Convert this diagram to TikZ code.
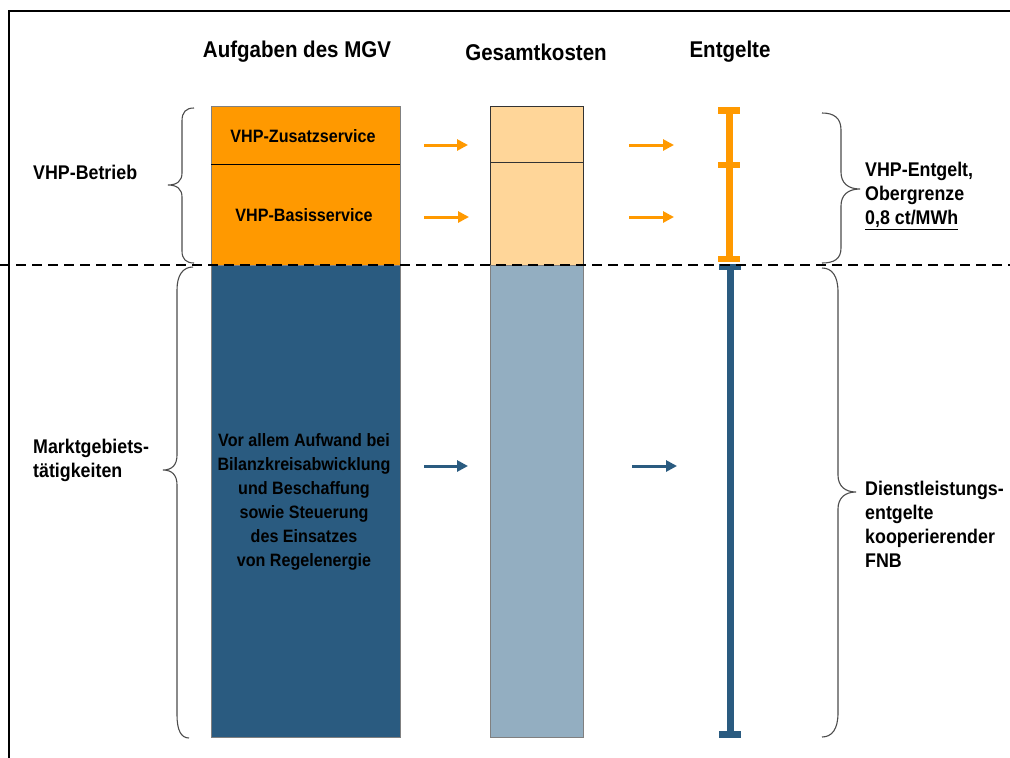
\documentclass[tikz,border=0pt]{standalone}
\usepackage{fontspec}
\setmainfont{Liberation Sans}
\newfontfamily\narrowsans{Liberation Sans}[FakeStretch=0.9]
\usetikzlibrary{arrows.meta}
\definecolor{vorange}{HTML}{FF9900}
\definecolor{lorange}{HTML}{FFD699}
\definecolor{dblue}{HTML}{2A5B80}
\definecolor{lblue}{HTML}{93AEC1}
\tikzset{
  title/.style={font=\narrowsans\bfseries\fontsize{22.8}{26}\selectfont, inner sep=0pt},
  boxtext/.style={font=\narrowsans\bfseries\fontsize{17.9}{24}\selectfont, align=center, inner sep=0pt},
  sidelabel/.style={font=\narrowsans\bfseries\fontsize{19.8}{24}\selectfont, align=left, inner sep=0pt, anchor=west},
  obox/.style={fill=vorange, draw=gray, line width=0.8pt},
  cbox/.style={fill=lorange, draw=black!80, line width=0.8pt},
  bbox/.style={fill=dblue, draw=gray, line width=0.8pt},
  lbbox/.style={fill=lblue, draw=gray, line width=0.8pt},
  oarrow/.style={draw=vorange, line width=3pt, -{Triangle[length=11pt,width=11pt]}},
  barrow/.style={draw=dblue, line width=3pt, -{Triangle[length=11pt,width=11pt]}},
  brace/.style={draw=black!70, line width=1.1pt},
  bar/.style={line width=7pt}
}
\begin{document}
\begin{tikzpicture}[x=1pt,y=-1pt]
\useasboundingbox (0,0) rectangle (1010,758);
% frame
\draw[line width=2pt] (9,758) -- (9,11) -- (1010,11);

% titles
\node[title] (t1) at (297,52) {Aufgaben des MGV};
\node[title] (t2) at (536,52) {Gesamtkosten};
\node[title] (t3) at (730,52) {Entgelte};

% column 1
\path[obox] (211,106) rectangle (400,164);
\path[obox] (211,164) rectangle (400,265);
\draw[black, line width=0.8pt] (211,164) -- (400,164);
\path[bbox] (211,265) rectangle (400,737);
\node[boxtext] (zs) at (303,136) {VHP-Zusatzservice};
\node[boxtext] (bs) at (304,215) {VHP-Basisservice};
\node[boxtext] (ma) at (304,502) {Vor allem Aufwand bei\\Bilanzkreisabwicklung\\und Beschaffung\\sowie Steuerung\\des Einsatzes\\von Regelenergie};

% column 2
\path[cbox] (490,106) rectangle (583,162);
\path[cbox] (490,162) rectangle (583,265);
\path[lbbox] (490,265) rectangle (583,737);

% column 3 bars
\draw[vorange, bar] (729,108) -- (729,262);
\fill[vorange] (718,107) rectangle (740,114);
\fill[vorange] (718,162) rectangle (740,168);
\fill[vorange] (718,256) rectangle (740,262);
\draw[dblue, bar] (730,264) -- (730,736);
\fill[dblue] (719,264) rectangle (741,270);
\fill[dblue] (719,731) rectangle (741,738);

% arrows
\coordinate (a1s) at (424,145); \coordinate (a1e) at (468,145);
\coordinate (a2s) at (629,145); \coordinate (a2e) at (674,145);
\coordinate (a3s) at (424,217); \coordinate (a3e) at (469,217);
\coordinate (a4s) at (629,217); \coordinate (a4e) at (674,217);
\coordinate (a5s) at (424,466); \coordinate (a5e) at (468,466);
\coordinate (a6s) at (632,466); \coordinate (a6e) at (677,466);
\draw[oarrow] (a1s) -- (a1e);
\draw[oarrow] (a2s) -- (a2e);
\draw[oarrow] (a3s) -- (a3e);
\draw[oarrow] (a4s) -- (a4e);
\draw[barrow] (a5s) -- (a5e);
\draw[barrow] (a6s) -- (a6e);

% dashed separator
\draw[line width=2pt, dash pattern=on 10pt off 6pt] (0,265) -- (1010,265);

% left braces
\draw[brace] (194,108) .. controls (186,108) and (182,112) .. (182,121) -- (182,173)
  .. controls (182,181) and (177,185) .. (168,185)
  .. controls (177,185) and (182,189) .. (182,197) -- (182,251)
  .. controls (182,259) and (186,263) .. (194,263);
\draw[brace] (193,267) .. controls (183,267) and (177,275) .. (177,290) -- (177,455)
  .. controls (177,465) and (172,470) .. (163,470)
  .. controls (172,470) and (177,475) .. (177,485) -- (177,715)
  .. controls (177,730) and (181,738) .. (189,738);

% right braces
\draw[brace] (822,113) .. controls (834,113) and (841,118) .. (841,130) -- (841,172)
  .. controls (841,183) and (848,189) .. (860,189)
  .. controls (848,189) and (841,195) .. (841,206) -- (841,248)
  .. controls (841,259) and (834,263) .. (822,263);
\draw[brace] (822,268) .. controls (832,268) and (838,276) .. (838,292) -- (838,475)
  .. controls (838,486) and (845,492) .. (856,492)
  .. controls (845,492) and (838,498) .. (838,509) -- (838,713)
  .. controls (838,729) and (832,737) .. (822,737);

% side labels
\node[sidelabel] (l1) at (33,172) {VHP-Betrieb};
\node[sidelabel] (l2) at (33,460) {Marktgebiets-\\tätigkeiten};
\node[sidelabel] (r1) at (865,196) {VHP-Entgelt,\\Obergrenze\\\underline{0,8 ct/MWh}};
\node[sidelabel] (r2) at (865,524) {Dienstleistungs-\\entgelte\\kooperierender\\FNB};
\end{tikzpicture}
\end{document}
